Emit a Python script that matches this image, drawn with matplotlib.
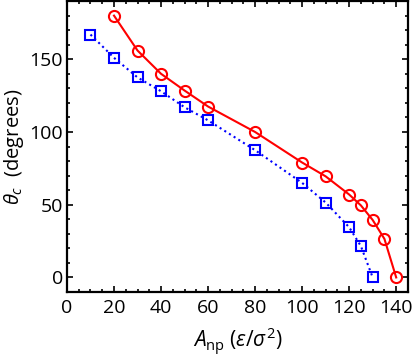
import numpy as np
import matplotlib
matplotlib.use("Agg")
import matplotlib.pyplot as plt
from matplotlib.ticker import MultipleLocator

# -------- Data --------
a_red = [20, 30, 40, 50, 60, 80, 100, 110, 120, 125, 130, 135, 140]
theta_red = [180, 156, 140, 128.5, 117.5, 100, 79, 69.5, 57, 49.5, 39.5, 26.5, 0]

a_blue = [10, 20, 30, 40, 50, 60, 80, 100, 110, 120, 125, 130]
theta_blue = [167, 151, 137.5, 128, 117, 108, 87.5, 65, 51.5, 34.5, 21.5, 0]

x_ticks = [0, 20, 40, 60, 80, 100, 120, 140]
y_ticks = [0, 50, 100, 150]

plt.rcParams['font.family'] = ['Open Sans', 'DejaVu Sans']
plt.rcParams['mathtext.fontset'] = 'custom'
plt.rcParams['mathtext.rm'] = 'Open Sans'
plt.rcParams['mathtext.it'] = 'Open Sans:italic'

fig = plt.figure(figsize=(4.15, 3.58), dpi=100)
ax = fig.add_axes([0.1614, 0.1844, 0.8216, 0.8126])

ax.plot(a_red, theta_red, color='red', lw=1.5, marker='o', ms=8,
        mfc='none', mec='red', mew=1.5)
ax.plot(a_blue, theta_blue, color='blue', lw=1.5, ls=':', marker='s', ms=6.5,
        mfc='none', mec='blue', mew=1.5)

ax.set_xlim(0, 145)
ax.set_ylim(-10, 190)
ax.set_xticks(x_ticks)
ax.set_yticks(y_ticks)
ax.xaxis.set_minor_locator(MultipleLocator(5))
ax.yaxis.set_minor_locator(MultipleLocator(10))
ax.tick_params(which='both', direction='in', top=True, right=True, labelsize=14, width=1.2)
ax.tick_params(which='major', length=4, pad=5)
ax.tick_params(axis='y', which='major', pad=3)
ax.tick_params(which='minor', length=2)
for s in ax.spines.values():
    s.set_linewidth(1.6)

ax.set_xlabel(r'$A_{\mathrm{np}}$ ($\epsilon/\sigma^2$)', fontsize=15, labelpad=6)
ax.set_ylabel(r'$\theta_c$  (degrees)', fontsize=14.5, labelpad=2)

fig.savefig('out.png', dpi=100)
